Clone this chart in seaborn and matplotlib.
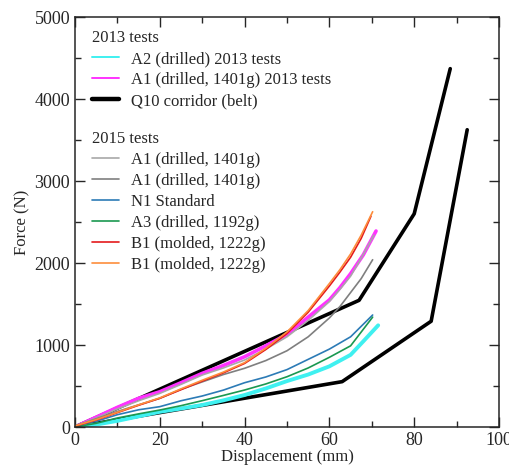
import matplotlib
matplotlib.use("Agg")
import matplotlib.pyplot as plt
from matplotlib.lines import Line2D
import seaborn as sns
import pandas as pd

# Q10 corridor (belt): upper and lower bounds
corr_up_x = [0, 67, 80, 88.5]
corr_up_f = [0, 1545, 2600, 4370]
corr_lo_x = [0, 63, 84, 92.5]
corr_lo_f = [0, 553, 1290, 3625]

# 2013 tests
a2_2013_x = [0, 5, 10, 15, 20, 25, 30, 35, 40, 45, 50, 55, 60, 65, 68, 71.5]
a2_2013_f = [0, 30, 75, 130, 185, 225, 268, 325, 390, 470, 560, 640, 740, 880, 1045, 1240]
a1_2013_x = [0, 5, 10, 15, 20, 25, 30, 35, 40, 45, 50, 55, 60, 62.5, 65, 68, 71]
a1_2013_f = [0, 120, 240, 350, 430, 540, 654, 750, 857, 990, 1130, 1340, 1550, 1700, 1870, 2100, 2390]

# 2015 tests
a1_light_x = [0, 5, 10, 15, 20, 25, 30, 35, 40, 45, 50, 55, 60, 62.5, 65, 67.5, 70.5]
a1_light_f = [10, 110, 220, 320, 410, 520, 634, 720, 817, 950, 1100, 1300, 1530, 1680, 1840, 2060, 2340]
a1_dark_x = [0, 5, 10, 15, 20, 25, 30, 35, 40, 45, 50, 55, 60, 62.5, 65, 67.5, 70.2]
a1_dark_f = [10, 100, 190, 270, 350, 460, 550, 640, 716, 810, 930, 1100, 1330, 1470, 1640, 1810, 2040]
n1_x = [0, 5, 10, 15, 20, 25, 30, 35, 40, 45, 50, 55, 60, 65, 70.2]
n1_f = [20, 70, 150, 210, 248, 320, 378, 450, 540, 610, 700, 825, 950, 1100, 1366]
a3_x = [0, 5, 10, 15, 20, 25, 30, 35, 40, 45, 50, 55, 60, 65, 70.2]
a3_f = [0, 45, 110, 160, 207, 260, 321, 385, 451, 525, 613, 720, 850, 990, 1340]
b1_red_x = [0, 5, 10, 15, 20, 25, 30, 35, 40, 45, 50, 55, 60, 62.5, 65, 67.5, 69.8]
b1_red_f = [10, 85, 175, 265, 350, 455, 560, 660, 775, 945, 1140, 1400, 1720, 1890, 2070, 2300, 2570]
b1_orange_x = [0, 5, 10, 15, 20, 25, 30, 35, 40, 45, 50, 55, 60, 62.5, 65, 67.5, 70.2]
b1_orange_f = [15, 90, 180, 270, 355, 465, 570, 670, 785, 960, 1160, 1420, 1750, 1920, 2110, 2340, 2625]

series = [
    ("corr_up", corr_up_x, corr_up_f, "black", 2.6),
    ("corr_lo", corr_lo_x, corr_lo_f, "black", 2.6),
    ("a2_2013", a2_2013_x, a2_2013_f, "#3ff0f0", 2.8),
    ("a1_2013", a1_2013_x, a1_2013_f, "#ff33ff", 2.6),
    ("a1_light", a1_light_x, a1_light_f, "#a8a8a8", 1.2),
    ("a1_dark", a1_dark_x, a1_dark_f, "#7f7f7f", 1.2),
    ("n1", n1_x, n1_f, "#2c7bb6", 1.2),
    ("a3", a3_x, a3_f, "#1a9850", 1.2),
    ("b1_red", b1_red_x, b1_red_f, "#e41a1c", 1.2),
    ("b1_orange", b1_orange_x, b1_orange_f, "#fd8d3c", 1.2),
]

sns.set_style("ticks")
plt.rcParams["font.family"] = ["Liberation Serif", "DejaVu Serif"]

fig = plt.figure(figsize=(5.09, 4.68), dpi=100)
ax = fig.add_axes([75 / 509, 1 - 427 / 468, 424 / 509, 410 / 468])

for name, xs, fs, col, lw in series:
    df = pd.DataFrame({"Displacement": xs, "Force": fs})
    sns.lineplot(data=df, x="Displacement", y="Force", color=col, lw=lw,
                 sort=False, ax=ax, legend=False)

ax.set_xlim(0, 100)
ax.set_ylim(0, 5000)
ax.set_xticks([0, 20, 40, 60, 80, 100])
ax.set_xticks(range(10, 100, 20), minor=True)
ax.set_yticks(range(0, 5001, 1000))
ax.set_yticks(range(500, 5000, 1000), minor=True)
ax.tick_params(which="both", direction="in", top=True, right=True, width=1,
               labelsize=13)
ax.tick_params(which="major", length=7)
ax.tick_params(which="minor", length=4)
for sp in ax.spines.values():
    sp.set_linewidth(1.1)
ax.set_xlabel("Displacement (mm)", fontsize=12, labelpad=0)
ax.set_ylabel("Force (N)", fontsize=12, labelpad=3)

h2013 = [Line2D([], [], color="#3ff0f0", lw=1.4),
         Line2D([], [], color="#ff33ff", lw=1.4),
         Line2D([], [], color="black", lw=3.2)]
l2013 = ["A2 (drilled) 2013 tests", "A1 (drilled, 1401g) 2013 tests",
         "Q10 corridor (belt)"]
h2015 = [Line2D([], [], color=c, lw=1.2) for c in
         ["#a8a8a8", "#7f7f7f", "#2c7bb6", "#1a9850", "#e41a1c", "#fd8d3c"]]
l2015 = ["A1 (drilled, 1401g)", "A1 (drilled, 1401g)", "N1 Standard",
         "A3 (drilled, 1192g)", "B1 (molded, 1222g)", "B1 (molded, 1222g)"]

leg_kw = dict(loc="upper left", frameon=False, fontsize=12, title_fontsize=12,
              alignment="left", borderpad=0, borderaxespad=0,
              handlelength=1.65, handletextpad=0.72, labelspacing=0.3)
leg1 = ax.legend(h2013, l2013, title="2013 tests",
                 bbox_to_anchor=(0.04, 0.968), **leg_kw)
ax.add_artist(leg1)
ax.legend(h2015, l2015, title="2015 tests",
          bbox_to_anchor=(0.04, 0.722), **leg_kw)

fig.savefig("out.png", dpi=100)
